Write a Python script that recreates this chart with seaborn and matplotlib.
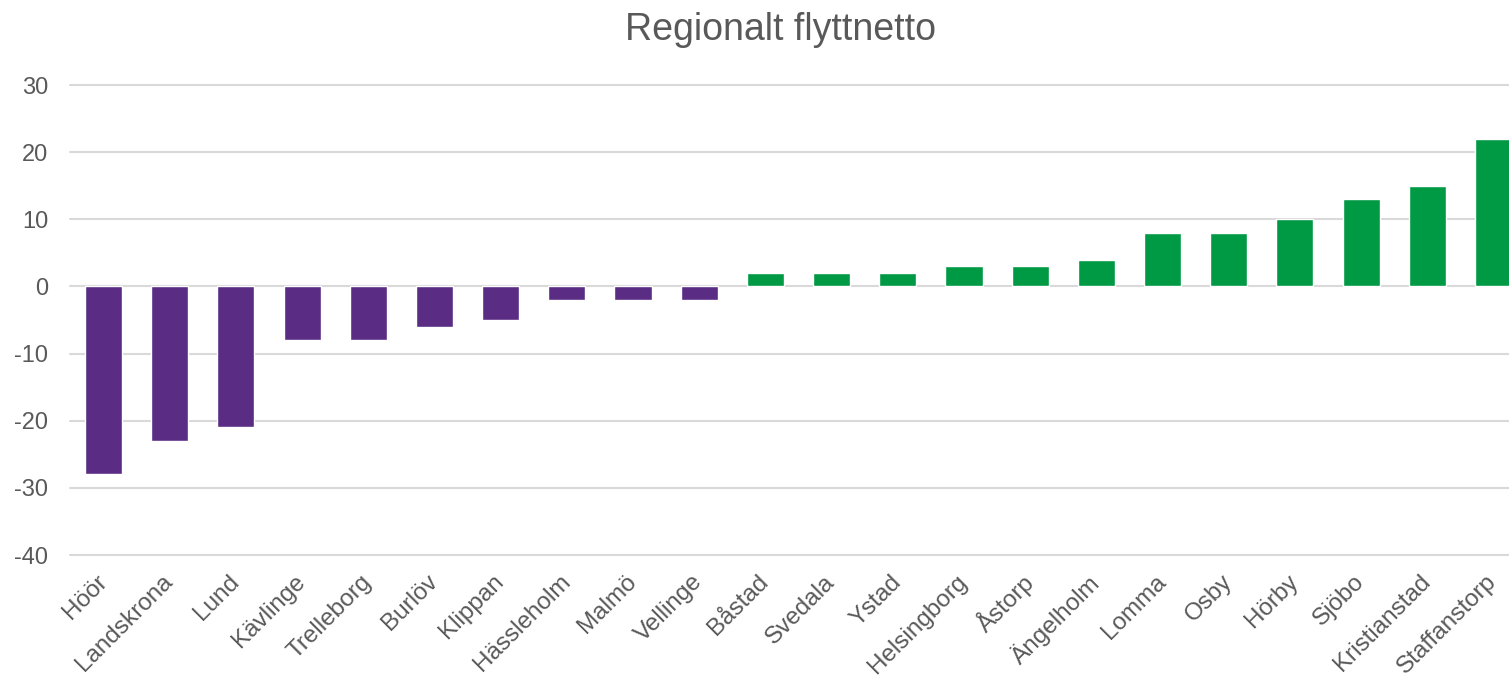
import matplotlib
matplotlib.use("Agg")
import matplotlib.pyplot as plt
import seaborn as sns
import pandas as pd

kommuner = ["Höör", "Landskrona", "Lund", "Kävlinge", "Trelleborg", "Burlöv", "Klippan",
            "Hässleholm", "Malmö", "Vellinge", "Båstad", "Svedala", "Ystad", "Helsingborg",
            "Åstorp", "Ängelholm", "Lomma", "Osby", "Hörby", "Sjöbo", "Kristianstad", "Staffanstorp"]
flyttnetto = [-28, -23, -21, -8, -8, -6, -5, -2, -2, -2, 2, 2, 2, 3, 3, 4, 8, 8, 10, 13, 15, 22]
y_ticks = [-40, -30, -20, -10, 0, 10, 20, 30]

df = pd.DataFrame({"kommun": kommuner, "netto": flyttnetto})
df["tecken"] = ["neg" if v < 0 else "pos" for v in flyttnetto]

sns.set_theme(style="white")
plt.rcParams["font.family"] = ["Liberation Sans", "DejaVu Sans"]

fig = plt.figure(figsize=(15.09, 6.76), dpi=100)
W, H = 1509, 676
ax = fig.add_axes([70.4 / W, (H - 555) / H, 1456.2 / W, 470 / H])

sns.barplot(data=df, x="kommun", y="netto", hue="tecken",
            palette={"neg": "#5B2C83", "pos": "#009A44"},
            dodge=False, width=0.56, legend=False, ax=ax, zorder=3,
            saturation=1)

ax.set_ylim(-40, 30)
ax.set_xlim(-0.5, len(kommuner) - 0.5)
ax.set_yticks(y_ticks)
ax.set_yticklabels([str(t) for t in y_ticks])
ax.grid(axis="y", color="#d9d9d9", linewidth=1.5, zorder=0)
ax.grid(axis="x", visible=False)
ax.set_axisbelow(True)
for gl in ax.get_ygridlines():
    gl.set_clip_on(False)
for s in ax.spines.values():
    s.set_visible(False)
ax.set_xlabel("")
ax.set_ylabel("")
ax.tick_params(axis="y", length=0, pad=16, labelsize=17, labelcolor="#595959")
ax.tick_params(axis="x", length=0, pad=17, labelsize=17.5, labelcolor="#595959")
for lab in ax.get_xticklabels():
    lab.set_rotation(45)
    lab.set_ha("right")
    lab.set_va("center")
    lab.set_rotation_mode("anchor")

fig.text(780 / W, (H - 30) / H, "Regionalt flyttnetto", ha="center", va="center",
         fontsize=27, color="#595959")

fig.savefig("out.png", dpi=100)
